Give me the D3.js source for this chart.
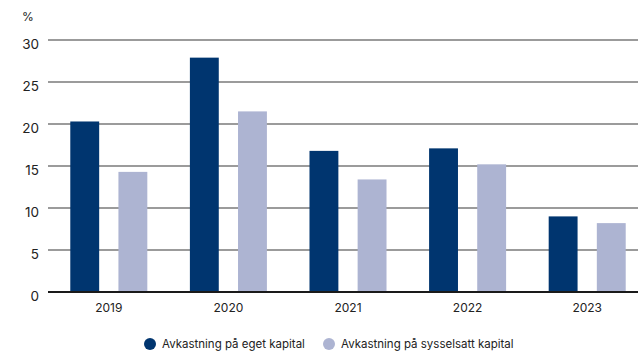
<!DOCTYPE html>
<html>
<head>
<meta charset="utf-8">
<script src="https://cdn.jsdelivr.net/npm/d3@7"></script>
<style>
  body { margin: 0; background: #fff; }
  svg { display: block; font-family: "Inter", "Noto Sans", sans-serif; }
</style>
</head>
<body>
<svg id="chart" width="638" height="352"></svg>
<script>
const categories = ["2019", "2020", "2021", "2022", "2023"];
const seriesNames = ["Avkastning på eget kapital", "Avkastning på sysselsatt kapital"];
const egetKapital = [20.3, 27.9, 16.8, 17.1, 9.0];
const sysselsattKapital = [14.3, 21.5, 13.4, 15.2, 8.2];
const yTicks = [0, 5, 10, 15, 20, 25, 30];
const colors = ["#00356f", "#adb4d2"];

(function () {
const svg = d3.select("#chart");
const pL = 48, pR = 638, pT = 40, pB = 292;

const x0 = d3.scaleBand().domain(categories).range([49, 647]).padding(0);
const bw = x0.bandwidth();
const x1 = d3.scaleBand().domain(seriesNames).range([bw * 0.178, bw * 0.822]).paddingInner(0.4);
const y = d3.scaleLinear().domain([0, 30]).range([pB, pT]);

// gridlines
svg.append("g").selectAll("line").data(yTicks.filter(d => d > 0)).join("line")
  .attr("x1", pL).attr("x2", pR)
  .attr("y1", d => y(d)).attr("y2", d => y(d))
  .attr("stroke", "#7a7a7a").attr("stroke-width", 1.5);

// y labels
const yAxis = d3.axisLeft(y).tickValues(yTicks).tickSize(0).tickPadding(0);
const ga = svg.append("g").attr("transform", `translate(39,4.5)`).call(yAxis);
ga.select(".domain").remove();
ga.selectAll("text").attr("font-size", 13.5).attr("fill", "#222").attr("font-family", "Inter, 'Noto Sans', sans-serif");

svg.append("text").attr("x", 22).attr("y", 21).text("%")
  .attr("font-size", 12).attr("fill", "#222");

// bars
const data = categories.map((c, i) => ({ cat: c, vals: [egetKapital[i], sysselsattKapital[i]] }));
const groups = svg.append("g").selectAll("g").data(data).join("g")
  .attr("transform", d => `translate(${x0(d.cat)},0)`);
groups.selectAll("rect").data(d => d.vals.map((v, j) => ({ s: seriesNames[j], v, j })))
  .join("rect")
  .attr("x", d => x1(d.s)).attr("width", x1.bandwidth())
  .attr("y", d => y(d.v)).attr("height", d => y(0) - y(d.v))
  .attr("fill", d => colors[d.j]);

// baseline
svg.append("line").attr("x1", pL).attr("x2", pR)
  .attr("y1", y(0)).attr("y2", y(0))
  .attr("stroke", "#1a1a1a").attr("stroke-width", 1.8);

// x labels
const xAxis = d3.axisBottom(x0).tickSize(0).tickPadding(0);
const gx = svg.append("g").attr("transform", `translate(0,${y(0) + 11})`).call(xAxis);
gx.select(".domain").remove();
gx.selectAll("text").attr("font-size", 12).attr("fill", "#222").attr("font-family", "Inter, 'Noto Sans', sans-serif");

// legend
const legendX = [150, 329];
const lg = svg.append("g").selectAll("g").data(seriesNames).join("g")
  .attr("transform", (d, i) => `translate(${legendX[i]},344)`);
lg.append("circle").attr("r", 6).attr("fill", (d, i) => colors[i]);
lg.append("text").attr("x", 12).attr("dy", "0.35em").text(d => d)
  .attr("font-size", 11.5).attr("fill", "#222");
})();
</script>
</body>
</html>
